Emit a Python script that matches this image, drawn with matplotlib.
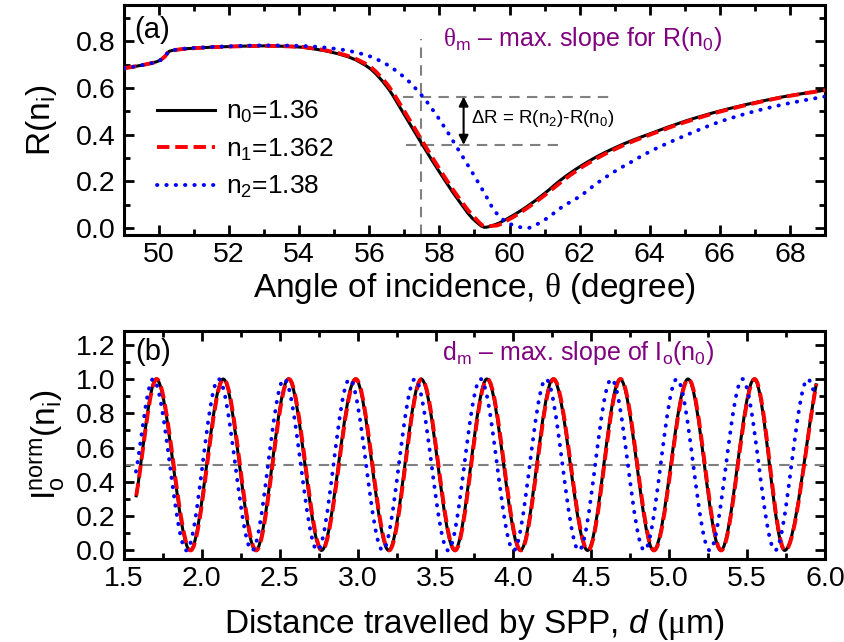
import numpy as np
import matplotlib
matplotlib.use("Agg")
import matplotlib.pyplot as plt
from matplotlib.path import Path
from matplotlib.patches import PathPatch
from matplotlib.lines import Line2D
from matplotlib.ticker import MultipleLocator, FormatStrFormatter

plt.rcParams['font.family'] = 'Liberation Sans'
plt.rcParams['mathtext.fontset'] = 'custom'
plt.rcParams['mathtext.rm'] = 'Liberation Sans'
plt.rcParams['mathtext.it'] = 'Liberation Sans:italic'
plt.rcParams['mathtext.sf'] = 'Liberation Serif'
plt.rcParams['mathtext.default'] = 'regular'

# (a) reflectance vs angle of incidence
theta_deg = [49.0, 49.5, 50.0, 50.15, 50.3, 50.6, 51.0, 52.0, 53.0, 54.0, 54.5, 55.0,
             55.5, 56.0, 56.5, 57.0, 57.5, 58.0, 58.5, 59.0, 59.3, 59.6, 60.0, 60.5,
             61.0, 61.5, 62.0, 62.5, 63.0, 63.5, 64.0, 65.0, 66.0, 67.0, 68.0, 69.0]
R_n0 = [0.684, 0.697, 0.716, 0.732, 0.757, 0.765, 0.770, 0.777, 0.780, 0.775, 0.765, 0.750,
        0.727, 0.685, 0.605, 0.485, 0.360, 0.240, 0.128, 0.033, 0.003, 0.015, 0.045, 0.092,
        0.148, 0.210, 0.262, 0.306, 0.343, 0.375, 0.403, 0.457, 0.501, 0.537, 0.567, 0.590]
R_n1 = [0.684, 0.697, 0.716, 0.732, 0.757, 0.765, 0.770, 0.777, 0.780, 0.776, 0.767, 0.753,
        0.731, 0.693, 0.617, 0.500, 0.375, 0.253, 0.140, 0.045, 0.008, 0.010, 0.038, 0.085,
        0.140, 0.200, 0.254, 0.299, 0.337, 0.370, 0.399, 0.453, 0.498, 0.535, 0.566, 0.590]
R_n2 = [0.684, 0.697, 0.716, 0.732, 0.757, 0.766, 0.771, 0.778, 0.782, 0.780, 0.776, 0.768,
        0.756, 0.736, 0.700, 0.645, 0.567, 0.465, 0.345, 0.222, 0.145, 0.068, 0.018, 0.000,
        0.035, 0.090, 0.135, 0.192, 0.242, 0.285, 0.327, 0.395, 0.455, 0.500, 0.535, 0.563]

theta_m = 57.48
R_hi = 0.563
R_lo = 0.356

# (b) normalised output intensity vs propagation distance
d_n0 = [1.577, 1.707, 1.925, 2.137, 2.346, 2.556, 2.768, 2.986, 3.199, 3.408, 3.623,
        3.830, 4.045, 4.255, 4.476, 4.685, 4.900, 5.121, 5.331, 5.546, 5.741, 5.945]
I_n0 = [0.31, 1.0, 0.0, 1.0, 0.0, 1.0, 0.0, 1.0, 0.0, 1.0, 0.0,
        1.0, 0.0, 1.0, 0.0, 1.0, 0.0, 1.0, 0.0, 1.0, 0.0, 0.975]
d_n1 = [1.579, 1.710, 1.928, 2.140, 2.349, 2.559, 2.771, 2.989, 3.202, 3.411, 3.626,
        3.833, 4.048, 4.258, 4.479, 4.688, 4.903, 5.124, 5.334, 5.549, 5.744, 5.945]
I_n1 = [0.32, 1.0, 0.0, 1.0, 0.0, 1.0, 0.0, 1.0, 0.0, 1.0, 0.0,
        1.0, 0.0, 1.0, 0.0, 1.0, 0.0, 1.0, 0.0, 1.0, 0.0, 0.97]
d_n2 = [1.577, 1.687, 1.902, 2.107, 2.322, 2.528, 2.742, 2.948, 3.161, 3.368, 3.581, 3.789,
        4.001, 4.209, 4.421, 4.629, 4.841, 5.049, 5.260, 5.470, 5.680, 5.890, 5.940]
I_n2 = [0.46, 1.0, 0.0, 1.0, 0.0, 1.0, 0.0, 1.0, 0.0, 1.0, 0.0, 1.0,
        0.0, 1.0, 0.0, 1.0, 0.0, 1.0, 0.0, 1.0, 0.0, 1.0, 0.90]

I_half = 0.5

labels = ['n$_0$=1.36', 'n$_1$=1.362', 'n$_2$=1.38']
colors = ['k', '#ff0000', '#0000ff']
widths = [2.2, 2.8, 2.8]
styles = ['-', (0, (3.2, 1.5)), (0, (0.1, 2.3))]
caps = ['butt', 'butt', 'round']
GRAY = '#808080'
PURPLE = '#800080'
GRAY_DASH = (0, (5, 3.5))


def smooth_path(x, y):
    # piecewise cubic Hermite (flat at local extrema) as a bezier path
    x = np.asarray(x, float)
    y = np.asarray(y, float)
    h = np.diff(x)
    delta = np.diff(y) / h
    d = np.zeros_like(y)
    for i in range(1, len(y) - 1):
        if delta[i - 1] * delta[i] > 0:
            w1 = 2 * h[i] + h[i - 1]
            w2 = h[i] + 2 * h[i - 1]
            d[i] = (w1 + w2) / (w1 / delta[i - 1] + w2 / delta[i])
    d[0] = delta[0]
    d[-1] = delta[-1]
    verts = [(x[0], y[0])]
    codes = [Path.MOVETO]
    for i in range(len(h)):
        verts += [(x[i] + h[i] / 3, y[i] + d[i] * h[i] / 3),
                  (x[i + 1] - h[i] / 3, y[i + 1] - d[i + 1] * h[i] / 3),
                  (x[i + 1], y[i + 1])]
        codes += [Path.CURVE4] * 3
    return Path(verts, codes)


def draw_curve(ax, x, y, k):
    patch = PathPatch(smooth_path(x, y), facecolor='none', edgecolor=colors[k],
                      lw=widths[k], linestyle=styles[k], capstyle=caps[k],
                      joinstyle='round', zorder=3 + k)
    ax.add_patch(patch)


def style_axes(ax):
    for sp in ax.spines.values():
        sp.set_linewidth(2.2)
    ax.tick_params(which='both', direction='in', top=True, right=True,
                   width=2.0, labelsize=20.5)
    ax.tick_params(which='major', length=7)
    ax.tick_params(which='minor', length=4.5)
    ax.tick_params(axis='x', which='major', pad=5)
    ax.tick_params(axis='y', which='major', pad=6)


fig = plt.figure(figsize=(8.45, 6.42), dpi=100)
ax1 = fig.add_axes([0.1467, 0.634, 0.8296, 0.3582])
ax2 = fig.add_axes([0.1467, 0.1293, 0.8296, 0.3551])

# ---- panel (a) ----
for k, R in enumerate([R_n0, R_n1, R_n2]):
    draw_curve(ax1, theta_deg, R, k)

ax1.plot([theta_m, theta_m], [-0.03, 0.81], color=GRAY, lw=1.5, ls=GRAY_DASH, zorder=2)
ax1.plot([56.95, 63.0], [R_hi, R_hi], color=GRAY, lw=1.5, ls=GRAY_DASH, zorder=2)
ax1.plot([57.05, 61.37], [R_lo, R_lo], color=GRAY, lw=1.5, ls=GRAY_DASH, zorder=2)
ax1.annotate('', xy=(58.69, R_hi), xytext=(58.69, R_lo),
             arrowprops=dict(arrowstyle='<|-|>', color='k', lw=1.5,
                             mutation_scale=14, shrinkA=0, shrinkB=0), zorder=6)
ax1.text(58.9, 0.47, r'$\Delta$R = R(n$_2$)-R(n$_0$)', fontsize=13.5, va='center')
ax1.text(58.1, 0.81, r'$\mathsf{\theta}_m$ – max. slope for R(n$_0$)', fontsize=18,
         color=PURPLE, va='center')
ax1.text(49.3, 0.85, '(a)', fontsize=21, va='center')

ax1.set_xlim(49, 69)
ax1.set_ylim(-0.03, 0.955)
ax1.xaxis.set_major_locator(MultipleLocator(2))
ax1.xaxis.set_minor_locator(MultipleLocator(1))
ax1.yaxis.set_major_locator(MultipleLocator(0.2))
ax1.yaxis.set_minor_locator(MultipleLocator(0.1))
ax1.yaxis.set_major_formatter(FormatStrFormatter('%.1f'))
ax1.set_yticks([0.0, 0.2, 0.4, 0.6, 0.8])
style_axes(ax1)
ax1.set_xlabel(r'Angle of incidence, $\mathsf{\theta}$ (degree)', fontsize=24, labelpad=2)
ax1.set_ylabel('R(n$_i$)', fontsize=24, labelpad=12)

handles = [Line2D([], [], color=colors[k], lw=widths[k], linestyle=styles[k],
                  dash_capstyle=caps[k], label=labels[k]) for k in range(3)]
ax1.legend(handles=handles, loc='upper left', bbox_to_anchor=(0.047, 0.59),
           frameon=False, fontsize=19, handlelength=2.2, handletextpad=0.4,
           labelspacing=0.42, borderpad=0, borderaxespad=0)

# ---- panel (b) ----
for k, (d, I) in enumerate([(d_n0, I_n0), (d_n1, I_n1), (d_n2, I_n2)]):
    draw_curve(ax2, d, I, k)
ax2.axhline(I_half, color=GRAY, lw=1.5, ls=GRAY_DASH, zorder=2)
ax2.text(3.54, 1.153, r'd$_m$ – max. slope of I$_o$(n$_0$)', fontsize=18,
         color=PURPLE, va='center')
ax2.text(1.571, 1.16, '(b)', fontsize=21, va='center')

ax2.set_xlim(1.5, 6.0)
ax2.set_ylim(-0.05, 1.28)
ax2.xaxis.set_major_locator(MultipleLocator(0.5))
ax2.xaxis.set_minor_locator(MultipleLocator(0.25))
ax2.xaxis.set_major_formatter(FormatStrFormatter('%.1f'))
ax2.yaxis.set_major_locator(MultipleLocator(0.2))
ax2.yaxis.set_minor_locator(MultipleLocator(0.1))
ax2.yaxis.set_major_formatter(FormatStrFormatter('%.1f'))
style_axes(ax2)
ax2.set_xlabel(r'Distance travelled by SPP, $\mathit{d}$ ($\mathsf{\mu}$m)', fontsize=24,
               labelpad=11)
ax2.set_ylabel('I$_o^{norm}$(n$_i$)', fontsize=24, labelpad=6)

fig.savefig('out.png', dpi=100)
